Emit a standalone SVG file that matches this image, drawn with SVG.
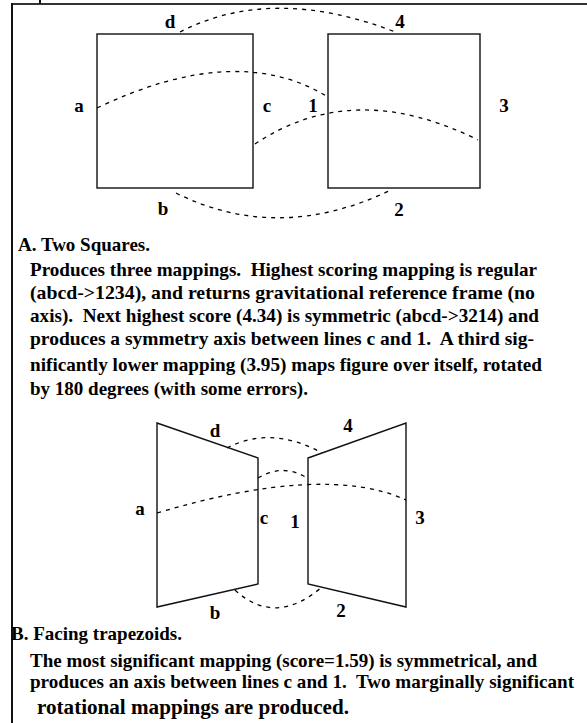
<svg xmlns="http://www.w3.org/2000/svg" width="587" height="723" viewBox="0 0 587 723">
<style>
.t{font-family:"Liberation Serif","Times New Roman",serif;font-weight:bold;font-size:19px;fill:#000;white-space:pre}
.l{font-family:"Liberation Serif","Times New Roman",serif;font-weight:bold;font-size:19px;fill:#000;text-anchor:middle}
.sh{fill:none;stroke:#111;stroke-width:1.4}
.dash{fill:none;stroke:#000;stroke-width:1.3;stroke-dasharray:4 5}
</style>
<rect width="587" height="723" fill="#fff"/>
<g id="frame">
<line x1="12" y1="4" x2="587" y2="4" stroke="#333" stroke-width="2"/>
<line x1="12" y1="3" x2="12" y2="723" stroke="#111" stroke-width="2"/>
<line x1="40" y1="0" x2="40" y2="4" stroke="#111" stroke-width="2"/>
</g>
<g id="squareLeft"><rect class="sh" x="97" y="34" width="156" height="154"/></g>
<g id="squareRight"><rect class="sh" x="328" y="34" width="152" height="154"/></g>
<g id="labelsA">
<text class="l" x="170" y="28">d</text>
<text class="l" x="400" y="28">4</text>
<text class="l" x="79" y="112">a</text>
<text class="l" x="267" y="112">c</text>
<text class="l" x="313" y="112">1</text>
<text class="l" x="504" y="112">3</text>
<text class="l" x="163" y="215">b</text>
<text class="l" x="399" y="216">2</text>
</g>
<g id="trapLeft"><polygon class="sh" points="157,423 258,458 258,584 157,607"/></g>
<g id="trapRight"><polygon class="sh" points="308,458 406,423 406,607 308,584"/></g>
<g id="labelsB">
<text class="l" x="215" y="437">d</text>
<text class="l" x="348" y="432">4</text>
<text class="l" x="140" y="515">a</text>
<text class="l" x="264" y="524">c</text>
<text class="l" x="295" y="528">1</text>
<text class="l" x="420" y="524">3</text>
<text class="l" x="215" y="619">b</text>
<text class="l" x="341" y="617">2</text>
</g>
<g id="connectors">
<path class="dash" d="M180,32 Q273,-16 398,33"/>
<path class="dash" d="M97,108 Q237,41 328,97"/>
<path class="dash" d="M255,144 Q354,78 478,140"/>
<path class="dash" d="M176,193 Q278,244 391,190"/>
<path class="dash" d="M227,448 Q271,425 322,453"/>
<path class="dash" d="M258,478 Q283,463 307,478"/>
<path class="dash" d="M157,513 Q325,463 406,500"/>
<path class="dash" d="M235,590 Q275,627 322,587"/>
</g>
<g id="captionA">
<text class="t" x="18" y="251">A. Two Squares.</text>
<text class="t" x="30" y="276" textLength="507" lengthAdjust="spacingAndGlyphs">Produces three mappings.  Highest scoring mapping is regular</text>
<text class="t" x="30" y="299" textLength="505" lengthAdjust="spacingAndGlyphs">(abcd-&gt;1234), and returns gravitational reference frame (no</text>
<text class="t" x="30" y="322" textLength="509" lengthAdjust="spacingAndGlyphs">axis).  Next highest score (4.34) is symmetric (abcd-&gt;3214) and</text>
<text class="t" x="30" y="345" textLength="504" lengthAdjust="spacingAndGlyphs">produces a symmetry axis between lines c and 1.  A third sig-</text>
<text class="t" x="30" y="371" textLength="512" lengthAdjust="spacingAndGlyphs">nificantly lower mapping (3.95) maps figure over itself, rotated</text>
<text class="t" x="30" y="395">by 180 degrees (with some errors).</text>
</g>
<g id="captionB">
<text class="t" x="11" y="640">B. Facing trapezoids.</text>
<text class="t" x="30" y="667" textLength="507" lengthAdjust="spacingAndGlyphs">The most significant mapping (score=1.59) is symmetrical, and</text>
<text class="t" x="30" y="688" textLength="544" lengthAdjust="spacingAndGlyphs">produces an axis between lines c and 1.  Two marginally significant</text>
<text class="t" x="37" y="714" style="font-size:20px" textLength="312" lengthAdjust="spacingAndGlyphs">rotational mappings are produced.</text>
</g>
</svg>
